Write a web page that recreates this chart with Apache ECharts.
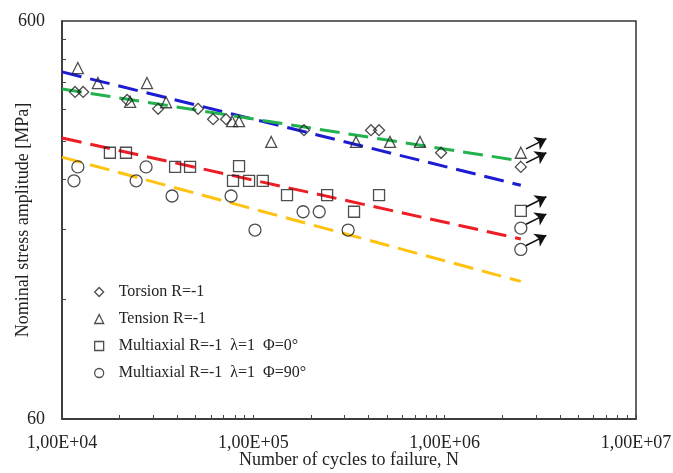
<!DOCTYPE html>
<html>
<head>
<meta charset="utf-8">
<script src="https://cdn.jsdelivr.net/npm/echarts@6/dist/echarts.min.js"></script>
<style>
  html, body { margin: 0; padding: 0; background: #fff; }
  #chart { width: 673px; height: 473px; }
</style>
</head>
<body>
<div id="chart"></div>
<script>
// data: [cycles N, stress amplitude MPa]
var torsion = [[1.17e4,398],[1.29e4,398],[2.19e4,380],[3.18e4,361],[5.14e4,361],[6.16e4,340],[7.2e4,340],
               [1.84e5,319],[4.12e5,319],[4.54e5,319],[9.58e5,280],[2.5e6,258]];
var tension = [[1.21e4,457],[1.54e4,419],[2.27e4,376],[2.78e4,419],[3.5e4,375],[7.74e4,336],[8.42e4,336],
               [1.24e5,298],[3.44e5,298],[5.18e5,298],[7.43e5,298],[2.5e6,280]];
var multi0 = [[1.78e4,280],[2.16e4,280],[3.9e4,258],[4.67e4,258],[7.83e4,238],[8.42e4,259],[9.5e4,238],
              [1.12e5,238],[1.5e5,219],[2.43e5,219],[3.36e5,199],[4.54e5,219],[2.5e6,200]];
var multi90 = [[1.155e4,238],[1.21e4,258],[2.44e4,238],[2.75e4,258],[3.76e4,218],[7.65e4,218],[1.02e5,179],
               [1.82e5,199],[2.21e5,199],[3.13e5,179],[2.5e6,181],[2.5e6,160]];
// run-out points (get an arrow)
var runouts = [[2.5e6,280],[2.5e6,258],[2.5e6,200],[2.5e6,181],[2.5e6,160]];
// trend lines
var fitTension = [[1e4,447],[2.5e6,232]];
var fitTorsion = [[1e4,405],[2.5e6,267]];
var fit0 = [[1e4,305],[2.5e6,170]];
var fit90 = [[1e4,273],[2.5e6,133]];
// axis ticks
var xLabels = [1e4, 1e5, 1e6, 1e7];
var xTicks = [];
[1e4, 1e5, 1e6].forEach(function (d) {
    for (var k = 1; k <= 10; k++) xTicks.push(d * k);
});
var yLabels = [60, 600];
var yTicks = [120, 180, 240, 300, 360, 420, 480, 540];

var names = ['Torsion R=-1', 'Tension R=-1', 'Multiaxial R=-1  \u03bb=1  \u03a6=0\u00b0', 'Multiaxial R=-1  \u03bb=1  \u03a6=90\u00b0'];
var serif = 'Liberation Serif';

function sciLabel(v) {
    var e = Math.round(Math.log10(v));
    return '1,00E+' + (e < 10 ? '0' + e : e);
}

var hollow = { color: 'rgba(255,255,255,0)', borderColor: '#222', borderWidth: 1.3 };

function fitLine(data, color) {
    return {
        type: 'line', data: data, symbol: 'none', z: 1, silent: true,
        lineStyle: { color: color, width: 3, type: [20, 9] }
    };
}

var arrows = runouts.map(function (p) {
    return [
        { coord: [p[0] * 1.065, p[1] * 1.023] },
        { coord: [p[0] * 1.36, p[1] * 1.085] }
    ];
});

var chart = echarts.init(document.getElementById('chart'));
var option = {
    animation: false,
    textStyle: { fontFamily: serif },
    grid: {
        left: 62, right: 37, top: 21, bottom: 54,
        outerBoundsMode: 'none',
        show: true, borderColor: '#333', borderWidth: 1.5
    },
    legend: {
        orient: 'vertical',
        left: 89, top: 278,
        itemWidth: 9, itemHeight: 9, itemGap: 9,
        selectedMode: false,
        textStyle: { fontFamily: serif, fontSize: 16, color: '#222', lineHeight: 18, padding: [0, 0, 0, 10] },
        data: [
            { name: names[0], icon: 'diamond', itemStyle: hollow },
            { name: names[1], icon: 'triangle', itemStyle: hollow },
            { name: names[2], icon: 'rect', itemStyle: hollow },
            { name: names[3], icon: 'circle', itemStyle: hollow }
        ]
    },
    xAxis: {
        type: 'log', logBase: 10, min: 1e4, max: 1e7,
        name: 'Number of cycles to failure, N',
        nameLocation: 'middle', nameGap: 32, nameMoveOverlap: false,
        nameTextStyle: { fontFamily: serif, fontSize: 18, color: '#222' },
        axisLine: { lineStyle: { color: '#333', width: 1.5 } },
        axisTick: { inside: true, length: 4, customValues: xTicks, lineStyle: { color: '#444' } },
        axisLabel: {
            customValues: xLabels, margin: 15, fontFamily: serif, fontSize: 18, color: '#222',
            formatter: sciLabel
        },
        splitLine: { show: false },
        minorTick: { show: false }
    },
    yAxis: {
        type: 'log', logBase: 10, min: 60, max: 600,
        name: 'Nominal stress amplitude [MPa]',
        nameLocation: 'middle', nameGap: 30, nameMoveOverlap: false,
        nameTextStyle: { fontFamily: serif, fontSize: 18, color: '#222' },
        axisLine: { show: true, lineStyle: { color: '#333', width: 1.5 } },
        axisTick: { show: true, inside: true, length: 4, customValues: yTicks, lineStyle: { color: '#444' } },
        axisLabel: {
            customValues: yLabels, margin: 17, fontFamily: serif, fontSize: 18, color: '#222'
        },
        splitLine: { show: false }
    },
    series: [
        fitLine(fitTension, '#1c1cd2'),
        fitLine(fitTorsion, '#22b14c'),
        fitLine(fit0, '#ee1c25'),
        fitLine(fit90, '#ffc20e'),
        {
            name: names[0], type: 'scatter', data: torsion, symbol: 'diamond', symbolSize: 11, z: 3,
            itemStyle: hollow
        },
        {
            name: names[1], type: 'scatter', data: tension, symbol: 'triangle', symbolSize: 11, z: 3,
            itemStyle: hollow
        },
        {
            name: names[2], type: 'scatter', data: multi0, symbol: 'rect', symbolSize: 11, z: 3,
            itemStyle: hollow
        },
        {
            name: names[3], type: 'scatter', data: multi90, symbol: 'circle', symbolSize: 12, z: 3,
            itemStyle: hollow,
            markLine: {
                silent: true, animation: false,
                symbol: ['none', 'arrow'], symbolSize: 11,
                label: { show: false },
                lineStyle: { color: '#111', width: 1.5, type: 'solid' },
                itemStyle: { color: '#111' },
                emphasis: { disabled: true },
                data: arrows
            }
        }
    ]
};
chart.setOption(option);
</script>
</body>
</html>
